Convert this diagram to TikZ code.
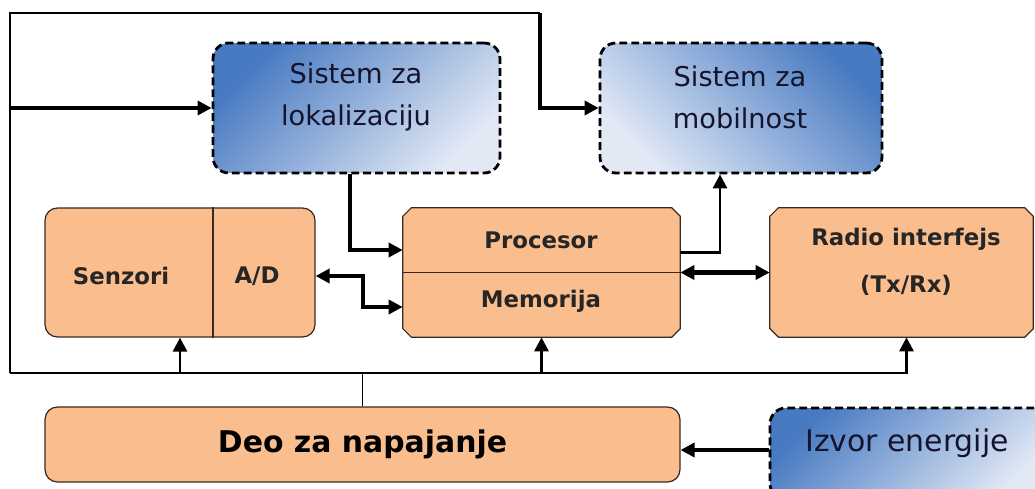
\documentclass[tikz,border=0pt]{standalone}
\usepackage{fontspec}
\setmainfont{DejaVu Sans}
\usetikzlibrary{arrows.meta}

\definecolor{blok}{RGB}{250,190,142}
\definecolor{okvir}{RGB}{60,40,30}
\definecolor{plavo}{RGB}{72,122,194}
\definecolor{svetlo}{RGB}{226,233,245}
\definecolor{tekst}{RGB}{20,20,45}

\tikzset{
  blok/.style={draw=okvir, line width=0.7pt, fill=blok, rounded corners=7pt, inner sep=0pt},
  prazno/.style={inner sep=0pt},
  plav/.style={draw=black, line width=1.6pt, dash pattern=on 4.5pt off 2.3pt, rounded corners=9pt,
    top color=plavo, bottom color=svetlo, inner sep=0pt},
  natpis/.style={font=\bfseries\fontsize{13}{27}\selectfont, text=black!85, align=center},
  plavnatpis/.style={font=\fontsize{15.5}{24}\selectfont, text=tekst, align=center},
  strela/.style={line width=2.3pt, -{Triangle[length=8pt,width=8pt]}},
  dvostr/.style={line width=2.3pt, {Triangle[length=8pt,width=8pt]}-{Triangle[length=8pt,width=8pt]}},
  sabstr/.style={line width=1.6pt, -{Triangle[length=8pt,width=8pt]}},
  tanka/.style={line width=1.1pt}
}

% kutija sa zasecenim uglovima oko cvora
\newcommand{\kosakutija}[1]{%
  \filldraw[draw=okvir, line width=0.7pt, fill=blok]
    ([xshift=5pt]#1.north west) -- ([xshift=-5pt]#1.north east) -- ([yshift=-5pt]#1.north east)
    -- ([yshift=5pt]#1.south east) -- ([xshift=-5pt]#1.south east) -- ([xshift=5pt]#1.south west)
    -- ([yshift=5pt]#1.south west) -- ([yshift=-5pt]#1.north west) -- cycle;}

\begin{document}
\begin{tikzpicture}[x=0.02cm, y=-0.02cm]
  \useasboundingbox (0,0) rectangle (1035,489);
  \clip (0,0) rectangle (1035,489);

  % gornji red
  \node[plav, shading angle=45, minimum width=5.74cm, minimum height=2.6cm] (lok) at (356.5,108) {};
  \node[plavnatpis] (loktxt) at (356,97) {Sistem za\\lokalizaciju};
  \node[plav, shading angle=-45, minimum width=5.64cm, minimum height=2.6cm] (mob) at (741,108) {};
  \node[plavnatpis] (mobtxt) at (740,97) {Sistem za\\mobilnost};

  % srednji red
  \node[blok, minimum width=5.4cm, minimum height=2.58cm] (sen) at (180,272.5) {};
  \node[natpis] (sentxt) at (121,276) {Senzori};
  \node[natpis] (adtxt) at (257,276) {A/D};
  \draw[draw=okvir, line width=0.7pt] (sen.north -| 213,0) -- (sen.south -| 213,0);

  \node[prazno, minimum width=5.54cm, minimum height=2.58cm] (pro) at (541.5,272.5) {};
  \kosakutija{pro}
  \node[natpis] (protxt) at (541,240) {Procesor};
  \node[natpis] (memtxt) at (541,301) {Memorija};
  \draw[draw=okvir, line width=0.7pt] (pro.west) -- (pro.east);

  \node[prazno, minimum width=5.26cm, minimum height=2.58cm] (rad) at (901.5,272.5) {};
  \kosakutija{rad}
  \node[natpis] (radtxt) at (906,262) {Radio interfejs\\(Tx/Rx)};

  % donji red
  \node[blok, minimum width=12.7cm, minimum height=1.5cm, font=\bfseries\fontsize{17}{20}\selectfont] (deo) at (362.5,444.5) {Deo za napajanje};
  \node[plav, shading angle=45, minimum width=5.6cm, minimum height=1.84cm] (izv) at (910,454) {};
  \node[plavnatpis, font=\fontsize{17}{20}\selectfont] (izvtxt) at (907,443) {Izvor energije};

  % veze
  \coordinate (bl) at (10,373);
  \coordinate (gl) at (10,13);
  \coordinate (gd) at (540,13);
  \coordinate (ul) at (10,108);
  \draw[tanka] (bl) -- (gl) -- (gd);
  \draw[strela] (gd) |- (mob.west);
  \draw[strela] (ul) -- (lok.west);

  \draw[sabstr] (bl) -| (sen.south);
  \draw[sabstr] (bl) -| (pro.south);
  \draw[sabstr] (bl) -| ([xshift=0.1cm]rad.south);
  \draw[tanka] (deo.north) -- (deo.north |- bl);

  \draw[strela] ([xshift=-0.13cm]lok.south) |- ([yshift=0.45cm]pro.west);
  \draw[dvostr] ([yshift=-0.07cm]sen.east) -- ++(47,0) |- ([yshift=-0.69cm]pro.west);
  \draw[sabstr] ([yshift=0.4cm]pro.east) -| ([xshift=-0.42cm]mob.south);
  \draw[dvostr] (pro.east) -- (rad.west);
  \draw[strela] (izv.west |- 0,450) -- (deo.east |- 0,450);
\end{tikzpicture}
\end{document}
